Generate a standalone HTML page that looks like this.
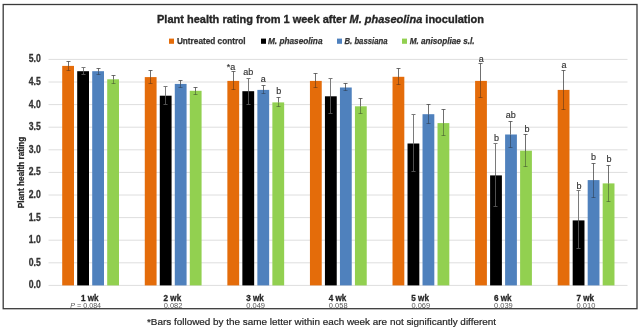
<!DOCTYPE html><html><head><meta charset="utf-8"><style>html,body{margin:0;padding:0;background:#fff;}svg{display:block;}#w{width:640px;height:332px;overflow:hidden;will-change:transform;}text{font-family:"Liberation Sans",sans-serif;}</style></head><body>
<div id="w"><svg width="640" height="332" viewBox="0 0 640 332">
<rect x="0" y="0" width="640" height="332" fill="#fff"/>
<rect x="3.2" y="4.5" width="633.8" height="304.2" fill="none" stroke="#3a3a3a" stroke-width="1.3"/>
<line x1="48.5" y1="285.40" x2="627.5" y2="285.40" stroke="#dedede" stroke-width="1"/>
<text x="40.7" y="288.30" text-anchor="end" font-size="10" font-weight="bold" fill="#333" stroke="#333" stroke-width="0.3" textLength="12" lengthAdjust="spacingAndGlyphs">0.0</text>
<line x1="48.5" y1="262.80" x2="627.5" y2="262.80" stroke="#dedede" stroke-width="1"/>
<text x="40.7" y="265.70" text-anchor="end" font-size="10" font-weight="bold" fill="#333" stroke="#333" stroke-width="0.3" textLength="12" lengthAdjust="spacingAndGlyphs">0.5</text>
<line x1="48.5" y1="240.20" x2="627.5" y2="240.20" stroke="#dedede" stroke-width="1"/>
<text x="40.7" y="243.10" text-anchor="end" font-size="10" font-weight="bold" fill="#333" stroke="#333" stroke-width="0.3" textLength="12" lengthAdjust="spacingAndGlyphs">1.0</text>
<line x1="48.5" y1="217.60" x2="627.5" y2="217.60" stroke="#dedede" stroke-width="1"/>
<text x="40.7" y="220.50" text-anchor="end" font-size="10" font-weight="bold" fill="#333" stroke="#333" stroke-width="0.3" textLength="12" lengthAdjust="spacingAndGlyphs">1.5</text>
<line x1="48.5" y1="195.00" x2="627.5" y2="195.00" stroke="#dedede" stroke-width="1"/>
<text x="40.7" y="197.90" text-anchor="end" font-size="10" font-weight="bold" fill="#333" stroke="#333" stroke-width="0.3" textLength="12" lengthAdjust="spacingAndGlyphs">2.0</text>
<line x1="48.5" y1="172.40" x2="627.5" y2="172.40" stroke="#dedede" stroke-width="1"/>
<text x="40.7" y="175.30" text-anchor="end" font-size="10" font-weight="bold" fill="#333" stroke="#333" stroke-width="0.3" textLength="12" lengthAdjust="spacingAndGlyphs">2.5</text>
<line x1="48.5" y1="149.80" x2="627.5" y2="149.80" stroke="#dedede" stroke-width="1"/>
<text x="40.7" y="152.70" text-anchor="end" font-size="10" font-weight="bold" fill="#333" stroke="#333" stroke-width="0.3" textLength="12" lengthAdjust="spacingAndGlyphs">3.0</text>
<line x1="48.5" y1="127.20" x2="627.5" y2="127.20" stroke="#dedede" stroke-width="1"/>
<text x="40.7" y="130.10" text-anchor="end" font-size="10" font-weight="bold" fill="#333" stroke="#333" stroke-width="0.3" textLength="12" lengthAdjust="spacingAndGlyphs">3.5</text>
<line x1="48.5" y1="104.60" x2="627.5" y2="104.60" stroke="#dedede" stroke-width="1"/>
<text x="40.7" y="107.50" text-anchor="end" font-size="10" font-weight="bold" fill="#333" stroke="#333" stroke-width="0.3" textLength="12" lengthAdjust="spacingAndGlyphs">4.0</text>
<line x1="48.5" y1="82.00" x2="627.5" y2="82.00" stroke="#dedede" stroke-width="1"/>
<text x="40.7" y="84.90" text-anchor="end" font-size="10" font-weight="bold" fill="#333" stroke="#333" stroke-width="0.3" textLength="12" lengthAdjust="spacingAndGlyphs">4.5</text>
<line x1="48.5" y1="59.40" x2="627.5" y2="59.40" stroke="#dedede" stroke-width="1"/>
<text x="40.7" y="62.30" text-anchor="end" font-size="10" font-weight="bold" fill="#333" stroke="#333" stroke-width="0.3" textLength="12" lengthAdjust="spacingAndGlyphs">5.0</text>
<rect x="62.20" y="65.90" width="11.8" height="219.50" fill="#E46C0A"/>
<rect x="77.20" y="71.20" width="11.8" height="214.20" fill="#000000"/>
<rect x="92.20" y="71.20" width="11.8" height="214.20" fill="#4F81BD"/>
<rect x="107.20" y="79.30" width="11.8" height="206.10" fill="#92D050"/>
<rect x="144.78" y="77.10" width="11.8" height="208.30" fill="#E46C0A"/>
<rect x="159.78" y="95.70" width="11.8" height="189.70" fill="#000000"/>
<rect x="174.78" y="83.90" width="11.8" height="201.50" fill="#4F81BD"/>
<rect x="189.78" y="90.80" width="11.8" height="194.60" fill="#92D050"/>
<rect x="227.36" y="80.90" width="11.8" height="204.50" fill="#E46C0A"/>
<rect x="242.36" y="91.20" width="11.8" height="194.20" fill="#000000"/>
<rect x="257.36" y="89.90" width="11.8" height="195.50" fill="#4F81BD"/>
<rect x="272.36" y="102.40" width="11.8" height="183.00" fill="#92D050"/>
<rect x="309.94" y="80.90" width="11.8" height="204.50" fill="#E46C0A"/>
<rect x="324.94" y="96.30" width="11.8" height="189.10" fill="#000000"/>
<rect x="339.94" y="87.50" width="11.8" height="197.90" fill="#4F81BD"/>
<rect x="354.94" y="106.30" width="11.8" height="179.10" fill="#92D050"/>
<rect x="392.52" y="76.80" width="11.8" height="208.60" fill="#E46C0A"/>
<rect x="407.52" y="143.50" width="11.8" height="141.90" fill="#000000"/>
<rect x="422.52" y="114.20" width="11.8" height="171.20" fill="#4F81BD"/>
<rect x="437.52" y="123.10" width="11.8" height="162.30" fill="#92D050"/>
<rect x="475.10" y="80.90" width="11.8" height="204.50" fill="#E46C0A"/>
<rect x="490.10" y="175.40" width="11.8" height="110.00" fill="#000000"/>
<rect x="505.10" y="134.50" width="11.8" height="150.90" fill="#4F81BD"/>
<rect x="520.10" y="150.70" width="11.8" height="134.70" fill="#92D050"/>
<rect x="557.68" y="89.90" width="11.8" height="195.50" fill="#E46C0A"/>
<rect x="572.68" y="220.40" width="11.8" height="65.00" fill="#000000"/>
<rect x="587.68" y="180.10" width="11.8" height="105.30" fill="#4F81BD"/>
<rect x="602.68" y="183.40" width="11.8" height="102.00" fill="#92D050"/>
<path d="M68.50 61.50V66M66.50 61.50H70.50" stroke="#404040" stroke-opacity="0.75" stroke-width="1" fill="none"/>
<path d="M68.50 66V70.50M66.50 70.50H70.50" stroke="#202020" stroke-opacity="0.4" stroke-width="1" fill="none"/>
<path d="M83.50 67.50V71M81.50 67.50H85.50" stroke="#7a7a7a" stroke-opacity="1" stroke-width="1" fill="none"/>
<path d="M83.50 71V74.50M81.50 74.50H85.50" stroke="#505050" stroke-opacity="1" stroke-width="1" fill="none"/>
<path d="M98.50 68.50V71M96.50 68.50H100.50" stroke="#404040" stroke-opacity="0.75" stroke-width="1" fill="none"/>
<path d="M98.50 71V74.50M96.50 74.50H100.50" stroke="#202020" stroke-opacity="0.4" stroke-width="1" fill="none"/>
<path d="M113.50 75.50V79M111.50 75.50H115.50" stroke="#404040" stroke-opacity="0.75" stroke-width="1" fill="none"/>
<path d="M113.50 79V83.50M111.50 83.50H115.50" stroke="#202020" stroke-opacity="0.4" stroke-width="1" fill="none"/>
<path d="M150.50 70.50V77M148.50 70.50H152.50" stroke="#404040" stroke-opacity="0.75" stroke-width="1" fill="none"/>
<path d="M150.50 77V83.50M148.50 83.50H152.50" stroke="#202020" stroke-opacity="0.4" stroke-width="1" fill="none"/>
<path d="M165.50 86.50V96M163.50 86.50H167.50" stroke="#7a7a7a" stroke-opacity="1" stroke-width="1" fill="none"/>
<path d="M165.50 96V104.50M163.50 104.50H167.50" stroke="#505050" stroke-opacity="1" stroke-width="1" fill="none"/>
<path d="M180.50 80.50V84M178.50 80.50H182.50" stroke="#404040" stroke-opacity="0.75" stroke-width="1" fill="none"/>
<path d="M180.50 84V87.50M178.50 87.50H182.50" stroke="#202020" stroke-opacity="0.4" stroke-width="1" fill="none"/>
<path d="M195.50 87.50V91M193.50 87.50H197.50" stroke="#404040" stroke-opacity="0.75" stroke-width="1" fill="none"/>
<path d="M195.50 91V94.50M193.50 94.50H197.50" stroke="#202020" stroke-opacity="0.4" stroke-width="1" fill="none"/>
<path d="M233.50 71.50V81M231.50 71.50H235.50" stroke="#404040" stroke-opacity="0.75" stroke-width="1" fill="none"/>
<path d="M233.50 81V89.50M231.50 89.50H235.50" stroke="#202020" stroke-opacity="0.4" stroke-width="1" fill="none"/>
<path d="M248.50 78.50V91M246.50 78.50H250.50" stroke="#7a7a7a" stroke-opacity="1" stroke-width="1" fill="none"/>
<path d="M248.50 91V104.50M246.50 104.50H250.50" stroke="#505050" stroke-opacity="1" stroke-width="1" fill="none"/>
<path d="M263.50 85.50V90M261.50 85.50H265.50" stroke="#404040" stroke-opacity="0.75" stroke-width="1" fill="none"/>
<path d="M263.50 90V93.50M261.50 93.50H265.50" stroke="#202020" stroke-opacity="0.4" stroke-width="1" fill="none"/>
<path d="M278.50 97.50V102M276.50 97.50H280.50" stroke="#404040" stroke-opacity="0.75" stroke-width="1" fill="none"/>
<path d="M278.50 102V106.50M276.50 106.50H280.50" stroke="#202020" stroke-opacity="0.4" stroke-width="1" fill="none"/>
<path d="M315.50 73.50V81M313.50 73.50H317.50" stroke="#404040" stroke-opacity="0.75" stroke-width="1" fill="none"/>
<path d="M315.50 81V87.50M313.50 87.50H317.50" stroke="#202020" stroke-opacity="0.4" stroke-width="1" fill="none"/>
<path d="M330.50 78.50V96M328.50 78.50H332.50" stroke="#7a7a7a" stroke-opacity="1" stroke-width="1" fill="none"/>
<path d="M330.50 96V113.50M328.50 113.50H332.50" stroke="#505050" stroke-opacity="1" stroke-width="1" fill="none"/>
<path d="M345.50 83.50V88M343.50 83.50H347.50" stroke="#404040" stroke-opacity="0.75" stroke-width="1" fill="none"/>
<path d="M345.50 88V90.50M343.50 90.50H347.50" stroke="#202020" stroke-opacity="0.4" stroke-width="1" fill="none"/>
<path d="M360.50 98.50V106M358.50 98.50H362.50" stroke="#404040" stroke-opacity="0.75" stroke-width="1" fill="none"/>
<path d="M360.50 106V113.50M358.50 113.50H362.50" stroke="#202020" stroke-opacity="0.4" stroke-width="1" fill="none"/>
<path d="M398.50 68.50V77M396.50 68.50H400.50" stroke="#404040" stroke-opacity="0.75" stroke-width="1" fill="none"/>
<path d="M398.50 77V84.50M396.50 84.50H400.50" stroke="#202020" stroke-opacity="0.4" stroke-width="1" fill="none"/>
<path d="M413.50 114.50V144M411.50 114.50H415.50" stroke="#7a7a7a" stroke-opacity="1" stroke-width="1" fill="none"/>
<path d="M413.50 144V171.50M411.50 171.50H415.50" stroke="#505050" stroke-opacity="1" stroke-width="1" fill="none"/>
<path d="M428.50 104.50V114M426.50 104.50H430.50" stroke="#404040" stroke-opacity="0.75" stroke-width="1" fill="none"/>
<path d="M428.50 114V123.50M426.50 123.50H430.50" stroke="#202020" stroke-opacity="0.4" stroke-width="1" fill="none"/>
<path d="M443.50 109.50V123M441.50 109.50H445.50" stroke="#404040" stroke-opacity="0.75" stroke-width="1" fill="none"/>
<path d="M443.50 123V135.50M441.50 135.50H445.50" stroke="#202020" stroke-opacity="0.4" stroke-width="1" fill="none"/>
<path d="M480.50 63.50V81M478.50 63.50H482.50" stroke="#404040" stroke-opacity="0.75" stroke-width="1" fill="none"/>
<path d="M480.50 81V97.50M478.50 97.50H482.50" stroke="#202020" stroke-opacity="0.4" stroke-width="1" fill="none"/>
<path d="M495.50 143.50V175M493.50 143.50H497.50" stroke="#7a7a7a" stroke-opacity="1" stroke-width="1" fill="none"/>
<path d="M495.50 175V206.50M493.50 206.50H497.50" stroke="#505050" stroke-opacity="1" stroke-width="1" fill="none"/>
<path d="M510.50 121.50V134M508.50 121.50H512.50" stroke="#404040" stroke-opacity="0.75" stroke-width="1" fill="none"/>
<path d="M510.50 134V147.50M508.50 147.50H512.50" stroke="#202020" stroke-opacity="0.4" stroke-width="1" fill="none"/>
<path d="M525.50 134.50V151M523.50 134.50H527.50" stroke="#404040" stroke-opacity="0.75" stroke-width="1" fill="none"/>
<path d="M525.50 151V166.50M523.50 166.50H527.50" stroke="#202020" stroke-opacity="0.4" stroke-width="1" fill="none"/>
<path d="M563.50 70.50V90M561.50 70.50H565.50" stroke="#404040" stroke-opacity="0.75" stroke-width="1" fill="none"/>
<path d="M563.50 90V109.50M561.50 109.50H565.50" stroke="#202020" stroke-opacity="0.4" stroke-width="1" fill="none"/>
<path d="M578.50 190.50V220M576.50 190.50H580.50" stroke="#7a7a7a" stroke-opacity="1" stroke-width="1" fill="none"/>
<path d="M578.50 220V248.50M576.50 248.50H580.50" stroke="#505050" stroke-opacity="1" stroke-width="1" fill="none"/>
<path d="M593.50 163.50V180M591.50 163.50H595.50" stroke="#404040" stroke-opacity="0.75" stroke-width="1" fill="none"/>
<path d="M593.50 180V197.50M591.50 197.50H595.50" stroke="#202020" stroke-opacity="0.4" stroke-width="1" fill="none"/>
<path d="M608.50 165.50V183M606.50 165.50H610.50" stroke="#404040" stroke-opacity="0.75" stroke-width="1" fill="none"/>
<path d="M608.50 183V201.50M606.50 201.50H610.50" stroke="#202020" stroke-opacity="0.4" stroke-width="1" fill="none"/>
<text x="231.00" y="69.60" text-anchor="middle" font-size="9" fill="#333" stroke="#333" stroke-width="0.15">*a</text>
<text x="248.20" y="75.10" text-anchor="middle" font-size="9" fill="#333" stroke="#333" stroke-width="0.15">ab</text>
<text x="263.35" y="82.30" text-anchor="middle" font-size="9" fill="#333" stroke="#333" stroke-width="0.15">a</text>
<text x="278.70" y="94.20" text-anchor="middle" font-size="9" fill="#333" stroke="#333" stroke-width="0.15">b</text>
<text x="481.25" y="61.70" text-anchor="middle" font-size="9" fill="#333" stroke="#333" stroke-width="0.15">a</text>
<text x="496.45" y="140.60" text-anchor="middle" font-size="9" fill="#333" stroke="#333" stroke-width="0.15">b</text>
<text x="510.85" y="118.40" text-anchor="middle" font-size="9" fill="#333" stroke="#333" stroke-width="0.15">ab</text>
<text x="526.90" y="131.90" text-anchor="middle" font-size="9" fill="#333" stroke="#333" stroke-width="0.15">b</text>
<text x="563.90" y="68.40" text-anchor="middle" font-size="9" fill="#333" stroke="#333" stroke-width="0.15">a</text>
<text x="579.05" y="188.60" text-anchor="middle" font-size="9" fill="#333" stroke="#333" stroke-width="0.15">b</text>
<text x="593.45" y="160.10" text-anchor="middle" font-size="9" fill="#333" stroke="#333" stroke-width="0.15">b</text>
<text x="609.05" y="162.40" text-anchor="middle" font-size="9" fill="#333" stroke="#333" stroke-width="0.15">b</text>
<text x="157" y="23.1" font-size="11.5" font-weight="bold" fill="#262626" stroke="#262626" stroke-width="0.35" textLength="327" lengthAdjust="spacingAndGlyphs">Plant health rating from 1 week after <tspan font-style="italic">M. phaseolina</tspan> inoculation</text>
<rect x="169" y="38.6" width="5" height="5.2" fill="#E46C0A"/>
<text x="176.9" y="43.6" font-size="8.4" font-weight="bold" font-style="normal" fill="#333" stroke="#333" stroke-width="0.25" textLength="68.6" lengthAdjust="spacingAndGlyphs">Untreated control</text>
<rect x="261" y="38.6" width="5" height="5.2" fill="#000000"/>
<text x="268" y="43.6" font-size="8.4" font-weight="bold" font-style="italic" fill="#333" stroke="#333" stroke-width="0.25" textLength="54.5" lengthAdjust="spacingAndGlyphs">M. phaseolina</text>
<rect x="337" y="38.6" width="5" height="5.2" fill="#4F81BD"/>
<text x="344.5" y="43.6" font-size="8.4" font-weight="bold" font-style="italic" fill="#333" stroke="#333" stroke-width="0.25" textLength="43" lengthAdjust="spacingAndGlyphs">B. bassiana</text>
<rect x="402" y="38.6" width="5" height="5.2" fill="#92D050"/>
<text x="409.7" y="43.6" font-size="8.4" font-weight="bold" font-style="italic" fill="#333" stroke="#333" stroke-width="0.25" textLength="64.8" lengthAdjust="spacingAndGlyphs">M. anisopliae s.l.</text>
<text transform="translate(23.6,172.5) rotate(-90)" x="0" y="0" text-anchor="middle" font-size="9" font-weight="bold" fill="#262626" stroke="#262626" stroke-width="0.25" textLength="71.5" lengthAdjust="spacingAndGlyphs">Plant health rating</text>
<text x="89.80" y="300.5" text-anchor="middle" font-size="8.5" font-weight="bold" fill="#262626" stroke="#262626" stroke-width="0.3" textLength="17.6" lengthAdjust="spacingAndGlyphs">1 wk</text>
<text x="85.70" y="307.6" text-anchor="middle" font-size="6.4" fill="#595959" textLength="30.8" lengthAdjust="spacingAndGlyphs"><tspan font-style="italic">P</tspan> = 0.084</text>
<text x="172.38" y="300.5" text-anchor="middle" font-size="8.5" font-weight="bold" fill="#262626" stroke="#262626" stroke-width="0.3" textLength="17.6" lengthAdjust="spacingAndGlyphs">2 wk</text>
<text x="173.08" y="307.6" text-anchor="middle" font-size="6.4" fill="#595959" textLength="18.8" lengthAdjust="spacingAndGlyphs">0.082</text>
<text x="254.96" y="300.5" text-anchor="middle" font-size="8.5" font-weight="bold" fill="#262626" stroke="#262626" stroke-width="0.3" textLength="17.6" lengthAdjust="spacingAndGlyphs">3 wk</text>
<text x="255.66" y="307.6" text-anchor="middle" font-size="6.4" fill="#595959" textLength="18.8" lengthAdjust="spacingAndGlyphs">0.049</text>
<text x="337.54" y="300.5" text-anchor="middle" font-size="8.5" font-weight="bold" fill="#262626" stroke="#262626" stroke-width="0.3" textLength="17.6" lengthAdjust="spacingAndGlyphs">4 wk</text>
<text x="338.24" y="307.6" text-anchor="middle" font-size="6.4" fill="#595959" textLength="18.8" lengthAdjust="spacingAndGlyphs">0.058</text>
<text x="420.12" y="300.5" text-anchor="middle" font-size="8.5" font-weight="bold" fill="#262626" stroke="#262626" stroke-width="0.3" textLength="17.6" lengthAdjust="spacingAndGlyphs">5 wk</text>
<text x="420.82" y="307.6" text-anchor="middle" font-size="6.4" fill="#595959" textLength="18.8" lengthAdjust="spacingAndGlyphs">0.069</text>
<text x="502.70" y="300.5" text-anchor="middle" font-size="8.5" font-weight="bold" fill="#262626" stroke="#262626" stroke-width="0.3" textLength="17.6" lengthAdjust="spacingAndGlyphs">6 wk</text>
<text x="503.40" y="307.6" text-anchor="middle" font-size="6.4" fill="#595959" textLength="18.8" lengthAdjust="spacingAndGlyphs">0.039</text>
<text x="585.28" y="300.5" text-anchor="middle" font-size="8.5" font-weight="bold" fill="#262626" stroke="#262626" stroke-width="0.3" textLength="17.6" lengthAdjust="spacingAndGlyphs">7 wk</text>
<text x="585.98" y="307.6" text-anchor="middle" font-size="6.4" fill="#595959" textLength="18.8" lengthAdjust="spacingAndGlyphs">0.010</text>
<text x="147" y="324.9" font-size="9.2" fill="#262626" stroke="#262626" stroke-width="0.2" textLength="349" lengthAdjust="spacingAndGlyphs">*Bars followed by the same letter within each week are not significantly different</text>
</svg></div></body></html>
